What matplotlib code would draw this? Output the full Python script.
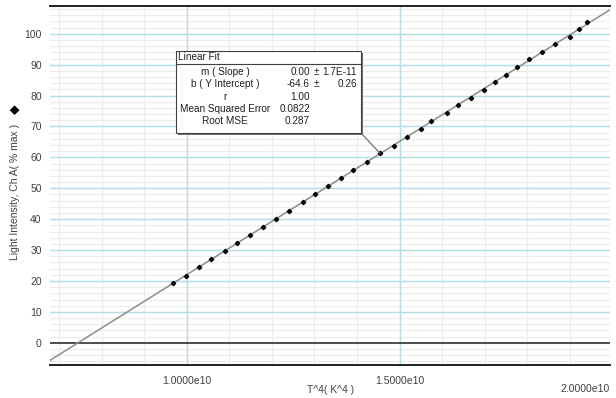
import numpy as np
import matplotlib
matplotlib.use("Agg")
import matplotlib.pyplot as plt
from matplotlib.patches import Rectangle

plt.rcParams['font.family'] = ['Liberation Sans', 'DejaVu Sans']

# ---- data (T^4 in K^4, light intensity in % max) ----
t4 = np.array([0.967, 0.998, 1.028, 1.057, 1.090, 1.119, 1.149, 1.180, 1.210, 1.240,
               1.272, 1.301, 1.332, 1.362, 1.391, 1.423, 1.454, 1.487, 1.516, 1.549,
               1.573, 1.610, 1.637, 1.667, 1.699, 1.724, 1.749, 1.775, 1.804, 1.834,
               1.865, 1.900, 1.920, 1.939]) * 1e10
intensity = np.array([19.4, 21.7, 24.4, 27.0, 29.8, 32.3, 35.0, 37.4, 40.1, 42.7,
                      45.4, 48.1, 50.8, 53.4, 55.9, 58.6, 61.3, 63.8, 66.5, 69.3,
                      71.7, 74.4, 76.8, 79.3, 81.8, 84.3, 86.7, 89.3, 91.8, 94.2,
                      96.8, 99.0, 101.5, 103.8])
x_ticks = [1.0e10, 1.5e10]
x_ticklabels = ["1.0000e10", "1.5000e10"]
x_last_label = "2.0000e10"
y_ticks = [0, 10, 20, 30, 40, 50, 60, 70, 80, 90, 100]

fit_rows = ["m ( Slope )", "b ( Y Intercept )", "r", "Mean Squared Error", "Root MSE"]
fit_vals = ["0.00", "-64.6", "1.00", "0.0822", "0.287"]
fit_errs = ["1.7E-11", "0.26", "", "", ""]
callout_index = 16

W, H = 616, 398
fig = plt.figure(figsize=(W / 100, H / 100), dpi=100)
L, R, T, B = 50, 610, 6, 365
ax = fig.add_axes([L / W, 1 - B / H, (R - L) / W, (B - T) / H])

xmin, xmax = 0.6791e10, 1.9937e10
ymin, ymax = -7.2, 109.0
ax.set_xlim(xmin, xmax)
ax.set_ylim(ymin, ymax)

# grid
for xv in np.arange(0.7e10, 2.0e10, 0.1e10):
    ax.axvline(xv, color='#ededed', lw=0.9, zorder=0)
for yv in np.arange(-6, 110, 2):
    ax.axhline(yv, color='#ededed', lw=0.9, zorder=0)
for xv in [1.0e10, 1.5e10]:
    ax.axvline(xv, color='#b2dfe3', lw=1.0, zorder=1)
for yv in y_ticks[1:]:
    ax.axhline(yv, color='#b2dfe3', lw=1.0, zorder=1)
ax.axhline(0, color='#404040', lw=1.3, zorder=2)

# fit
m, b = np.polyfit(t4, intensity, 1)
xs = np.array([xmin, xmax])
ax.plot(xs, m * xs + b, color='#8c8c8c', lw=1.1, zorder=3)
ax.plot(t4, intensity, linestyle='none', marker='D', ms=2.2, color='black', zorder=4)

# spines / ticks
for s in ['left', 'right']:
    ax.spines[s].set_visible(False)
for s in ['top', 'bottom']:
    ax.spines[s].set_color('#202020')
    ax.spines[s].set_linewidth(1.4)
ax.set_xticks(x_ticks)
ax.set_xticklabels(x_ticklabels)
ax.set_yticks(y_ticks)
ax.tick_params(axis='both', length=0, labelsize=7.5, labelcolor='#404040', pad=6)
ax.tick_params(axis='x', pad=8)
ax.text(1.0, -0.052, x_last_label, transform=ax.transAxes, ha='right', va='top',
        fontsize=7.5, color='#404040')

fig.text(331 / W, 1 - 390 / H, "T^4( K^4 )", ha='center', va='center', fontsize=7.5, color='#404040')
fig.text(15 / W, 1 - 192 / H, "Light Intensity, Ch A( % max )", rotation=90,
         ha='center', va='center', fontsize=7.5, color='#404040')
fig.text(15 / W, 1 - 109 / H, "◆", rotation=90, ha='center', va='center',
         fontsize=9, color='black')

# fit box
bl, br, bt, bb = 176, 361, 51, 133
def fx(p): return p / W
def fy(p): return 1 - p / H
fig.patches.append(Rectangle((fx(bl + 2), fy(bb + 2)), (br - bl) / W, (bb - bt) / H,
                             transform=fig.transFigure, facecolor='#707070', edgecolor='none', zorder=5))
fig.patches.append(Rectangle((fx(bl), fy(bb)), (br - bl) / W, (bb - bt) / H,
                             transform=fig.transFigure, facecolor='white', edgecolor='#404040',
                             lw=0.8, zorder=6))
fig.lines.append(plt.Line2D([fx(bl), fx(br)], [fy(64), fy(64)], transform=fig.transFigure,
                            color='#404040', lw=0.8, zorder=7))
fs = 7.2
fig.text(fx(178), fy(57.5), "Linear Fit", ha='left', va='center', fontsize=fs, color='#202020', zorder=8)
row_y = [72, 84, 97, 109.5, 121.5]
for i, yy in enumerate(row_y):
    fig.text(fx(225), fy(yy), fit_rows[i], ha='center', va='center', fontsize=fs, color='#202020', zorder=8)
    fig.text(fx(310), fy(yy), fit_vals[i], ha='right', va='center', fontsize=fs, color='#202020', zorder=8)
    if fit_errs[i]:
        fig.text(fx(316), fy(yy), "±", ha='center', va='center', fontsize=fs, color='#202020', zorder=8)
        fig.text(fx(357), fy(yy), fit_errs[i], ha='right', va='center', fontsize=fs, color='#202020', zorder=8)

ax.annotate('', xy=(t4[callout_index], intensity[callout_index]), xycoords='data',
            xytext=(fx(br), fy(bb)), textcoords='figure fraction',
            arrowprops=dict(arrowstyle='-', color='#707070', lw=0.9, shrinkA=0, shrinkB=0), zorder=4)

fig.savefig("out.png", dpi=100)
